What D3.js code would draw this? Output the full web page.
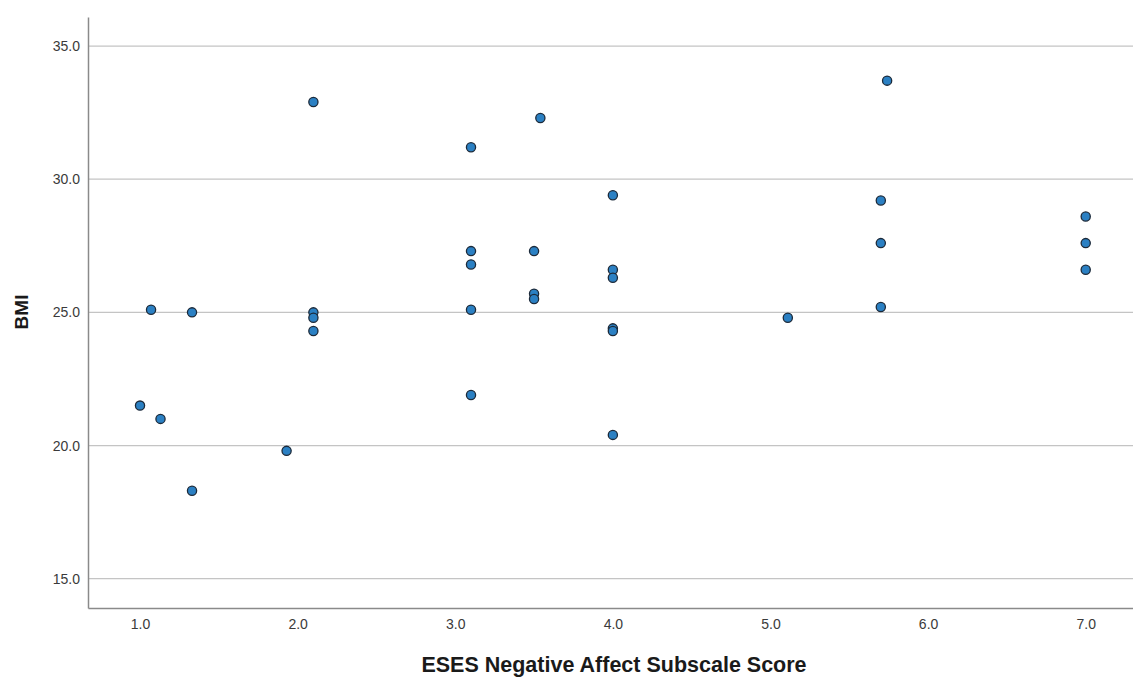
<!DOCTYPE html>
<html>
<head>
<meta charset="utf-8">
<script src="https://cdn.jsdelivr.net/npm/d3@7"></script>
<style>
  html, body { margin: 0; padding: 0; background: #ffffff; }
  svg { display: block; }
</style>
</head>
<body>
<svg id="chart" width="1133" height="677"></svg>
<script>
// ESES Negative Affect Subscale Score (x) against BMI (y)
const esesScore = [1.0, 1.07, 1.13, 1.33, 1.33, 1.93, 2.1, 2.1, 2.1, 2.1,
  3.1, 3.1, 3.1, 3.1, 3.1, 3.5, 3.5, 3.5, 3.54,
  4.0, 4.0, 4.0, 4.0, 4.0, 4.0, 5.11, 5.74, 5.7, 5.7, 5.7, 7.0, 7.0, 7.0];
const bmi = [21.5, 25.1, 21.0, 25.0, 18.3, 19.8, 32.9, 25.0, 24.8, 24.3,
  31.2, 27.3, 26.8, 25.1, 21.9, 27.3, 25.7, 25.5, 32.3,
  29.4, 26.6, 26.3, 24.4, 24.3, 20.4, 24.8, 33.7, 29.2, 27.6, 25.2, 28.6, 27.6, 26.6];

const xTicks = [1, 2, 3, 4, 5, 6, 7];
const yTicks = [15, 20, 25, 30, 35];
const xTitle = "ESES Negative Affect Subscale Score";
const yTitle = "BMI";

const points = esesScore.map((x, i) => ({ x, y: bmi[i] }));

const svg = d3.select("#chart");
const plotLeft = 88, plotRight = 1133, plotTop = 17, plotBottom = 608;

const x = d3.scaleLinear().domain([0.67, 7.3]).range([plotLeft, plotRight]);
const y = d3.scaleLinear().domain([13.9, 36.09]).range([plotBottom, plotTop]);

const font = "'Liberation Sans', Arial, sans-serif";

// horizontal gridlines
svg.append("g")
  .selectAll("line")
  .data(yTicks)
  .join("line")
  .attr("x1", plotLeft).attr("x2", plotRight)
  .attr("y1", d => y(d)).attr("y2", d => y(d))
  .attr("stroke", "#c4c4c4")
  .attr("stroke-width", 1.2);

// y axis
const yAxis = svg.append("g")
  .attr("transform", `translate(${plotLeft},0)`)
  .call(d3.axisLeft(y).tickValues(yTicks).tickFormat(d3.format(".1f")).tickSize(0).tickPadding(8));
yAxis.select(".domain").attr("stroke", "#8a8a8a").attr("stroke-width", 1.5);
yAxis.selectAll("text")
  .attr("font-family", font).attr("font-size", 14).attr("fill", "#3a3a3a");

// x axis
const xAxis = svg.append("g")
  .attr("transform", `translate(0,${plotBottom})`)
  .call(d3.axisBottom(x).tickValues(xTicks).tickFormat(d3.format(".1f")).tickSize(0).tickPadding(11));
xAxis.select(".domain").attr("stroke", "#8a8a8a").attr("stroke-width", 1.5);
xAxis.selectAll("text")
  .attr("font-family", font).attr("font-size", 14).attr("fill", "#3a3a3a");

// data points
svg.append("g")
  .selectAll("circle")
  .data(points)
  .join("circle")
  .attr("cx", d => x(d.x))
  .attr("cy", d => y(d.y))
  .attr("r", 4.6)
  .attr("fill", "#2b80c3")
  .attr("stroke", "#1c2a3a")
  .attr("stroke-width", 1.3);

// axis titles
svg.append("text")
  .attr("x", 614)
  .attr("y", 672)
  .attr("text-anchor", "middle")
  .attr("font-family", font)
  .attr("font-weight", "bold")
  .attr("font-size", 21.5)
  .attr("fill", "#1a1a1a")
  .text(xTitle);

svg.append("text")
  .attr("transform", `translate(28,312) rotate(-90)`)
  .attr("text-anchor", "middle")
  .attr("font-family", font)
  .attr("font-weight", "bold")
  .attr("font-size", 19)
  .attr("fill", "#1a1a1a")
  .text(yTitle);
</script>
</body>
</html>
